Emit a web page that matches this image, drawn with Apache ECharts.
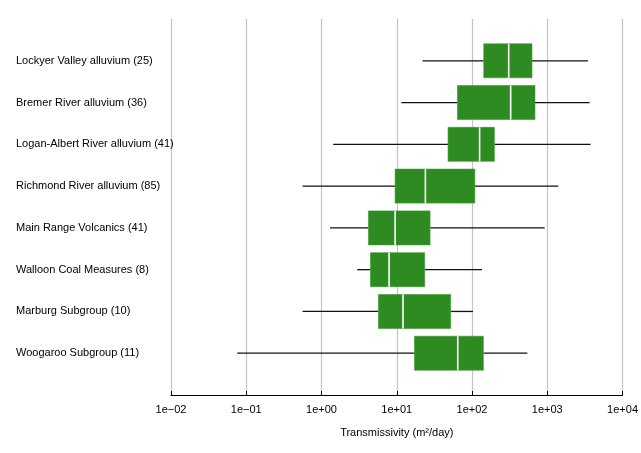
<!DOCTYPE html>
<html>
<head>
<meta charset="utf-8">
<script src="https://cdn.jsdelivr.net/npm/echarts@6/dist/echarts.min.js"></script>
<style>html,body{margin:0;padding:0;background:#fff;}#c{width:641px;height:453px;}</style>
</head>
<body>
<div id="c"></div>
<script>
var categories = [
  'Lockyer Valley alluvium (25)',
  'Bremer River alluvium (36)',
  'Logan-Albert River alluvium (41)',
  'Richmond River alluvium (85)',
  'Main Range Volcanics (41)',
  'Walloon Coal Measures (8)',
  'Marburg Subgroup (10)',
  'Woogaroo Subgroup (11)'
];
var whiskerLow  = [22, 11.5, 1.43, 0.56, 1.30, 2.98, 0.56, 0.076];
var q1          = [143, 64, 48, 9.5, 4.2, 4.47, 5.7, 17.2];
var medians     = [307, 326, 126, 24, 9.5, 7.9, 12.1, 64.6];
var q3          = [626, 686, 198, 109, 27.7, 23.5, 52, 141.6];
var whiskerHigh = [3470, 3650, 3760, 1400, 923, 136, 103, 543];
var tickLabels = ['1e\u221202','1e\u221201','1e+00','1e+01','1e+02','1e+03','1e+04'];

var yCats = [''].concat(categories).concat(['']);
var data = categories.map(function(c, i){
  return [i + 1, whiskerLow[i], q1[i], medians[i], q3[i], whiskerHigh[i]];
});

var chart = echarts.init(document.getElementById('c'));
chart.setOption({
  animation: false,
  backgroundColor: '#fff',
  textStyle: {fontFamily: 'Liberation Sans, Arial, sans-serif'},
  grid: {left: 171, right: 18, top: 19, bottom: 58, containLabel: false},
  xAxis: {
    type: 'log', logBase: 10, min: 0.01, max: 10000,
    name: 'Transmissivity (m\u00b2/day)', nameLocation: 'middle', nameGap: 32,
    nameTextStyle: {color: '#000', fontSize: 11, fontFamily: 'Liberation Sans, Arial, sans-serif'},
    axisLine: {show: true, lineStyle: {color: '#000', width: 1}},
    axisTick: {show: true, inside: true, length: 4, lineStyle: {color: '#000'}},
    axisLabel: {
      color: '#000', fontSize: 11, margin: 9,
      formatter: function(v){ var k = Math.round(Math.log10(v)) + 2; return tickLabels[k] || ''; }
    },
    splitLine: {show: true, lineStyle: {color: '#c4c4c4', width: 1.2}},
    minorTick: {show: false}
  },
  yAxis: {
    type: 'category', data: yCats, inverse: true, boundaryGap: false,
    axisLine: {show: false}, axisTick: {show: false}, splitLine: {show: false},
    axisLabel: {color: '#000', fontSize: 11, align: 'left', margin: 155, interval: 0}
  },
  series: [{
    type: 'custom',
    data: data,
    encode: {x: [1,2,3,4,5], y: 0},
    renderItem: function(params, api){
      var cat = api.value(0);
      var y = api.coord([1, cat])[1];
      var x = [1,2,3,4,5].map(function(d){ return api.coord([api.value(d), cat])[0]; });
      var h = 34;
      var green = '#2e8b22';
      return {
        type: 'group',
        children: [
          {type: 'line', shape: {x1: x[0], y1: y, x2: x[1], y2: y}, style: {stroke: '#111', lineWidth: 1.3}},
          {type: 'line', shape: {x1: x[3], y1: y, x2: x[4], y2: y}, style: {stroke: '#111', lineWidth: 1.3}},
          {type: 'rect', shape: {x: x[1], y: y - h/2, width: x[3] - x[1], height: h}, style: {fill: green, stroke: '#3a9a2e', lineWidth: 0.6}},
          {type: 'line', shape: {x1: x[2], y1: y - h/2, x2: x[2], y2: y + h/2}, style: {stroke: '#fff', lineWidth: 1.6}}
        ]
      };
    }
  }]
});
</script>
</body>
</html>
